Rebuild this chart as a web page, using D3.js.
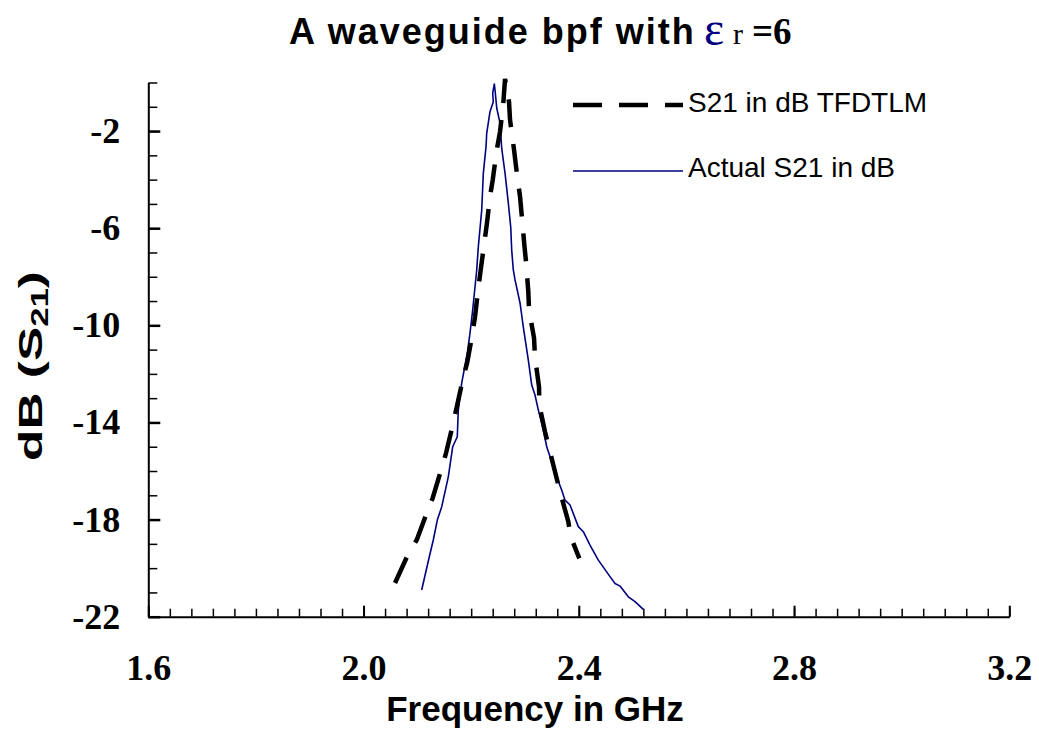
<!DOCTYPE html>
<html>
<head>
<meta charset="utf-8">
<script src="https://cdn.jsdelivr.net/npm/d3@7"></script>
<style>
  html, body { margin: 0; padding: 0; background: #fff; }
  svg { display: block; }
</style>
</head>
<body>
<svg id="chart" width="1039" height="735"></svg>
<script>
// ---- data ----
const tfdtlmFreq = [2.0585, 2.0813, 2.0988, 2.1174, 2.1285, 2.1440, 2.1532, 2.1657, 2.1731, 2.1843, 2.1928, 2.2010, 2.2071, 2.2133, 2.2177, 2.2226, 2.2289, 2.2350, 2.2400, 2.2475, 2.2536, 2.2597, 2.2629,
  2.2703, 2.2722, 2.2797, 2.2834, 2.2908, 2.2939, 2.2988, 2.3019, 2.3062, 2.3075, 2.3168, 2.3186, 2.3261, 2.3266, 2.3372, 2.3447, 2.3558, 2.3651, 2.3805, 2.3850, 2.4010];
const tfdtlmDb = [-20.61, -19.50, -18.84, -17.73, -17.11, -15.97, -15.27, -14.11, -13.37, -12.25, -11.51, -10.52, -9.66, -8.46, -7.72, -6.90, -5.87, -4.70, -4.02, -2.78, -2.03, -0.86, 0.15,
  -0.79, -1.54, -2.78, -3.47, -4.70, -5.46, -6.69, -7.38, -8.62, -9.37, -10.52, -11.31, -12.54, -13.28, -14.38, -15.05, -16.03, -16.85, -18.09, -18.71, -19.60];

const actualFreq = [2.108, 2.1222, 2.1296, 2.1371, 2.1453, 2.1575, 2.1657, 2.1742, 2.1761, 2.1824, 2.1928, 2.1978, 2.2028, 2.2103, 2.2133, 2.2196, 2.2226, 2.2276, 2.2289, 2.2350, 2.2411, 2.2400, 2.2430,
  2.2443, 2.2475, 2.2536, 2.2567, 2.2629, 2.2690, 2.2735, 2.2753, 2.2783, 2.2815, 2.2908, 2.2969, 2.3062, 2.3125, 2.3186, 2.3248, 2.3279, 2.3341, 2.3404, 2.3497, 2.3577, 2.3683, 2.3744, 2.3837, 2.3991, 2.4084, 2.4208, 2.4363, 2.4580, 2.4673, 2.4766, 2.4920, 2.5045, 2.5199];
const actualDb = [-20.90, -19.53, -18.84, -18.02, -17.47, -16.24, -15.00, -14.59, -13.49, -12.38, -11.14, -10.32, -9.37, -7.72, -6.76, -5.25, -3.73, -2.64, -2.08, -1.20, -0.79, -0.44, -0.06,
  -0.31, -1.05, -1.67, -2.70, -3.73, -4.96, -5.95, -6.90, -7.72, -8.13, -9.08, -10.07, -11.43, -12.46, -12.87, -13.49, -13.76, -14.31, -15.00, -15.62, -16.17, -16.79, -17.20, -17.40, -18.29, -18.50, -19.05, -19.67, -20.35, -20.63, -20.74, -21.18, -21.38, -21.70];

const xTickLabels = [1.6, 2.0, 2.4, 2.8, 3.2];
const yTickLabels = [-2, -6, -10, -14, -18, -22];
const seriesNames = ["S21 in dB TFDTLM", "Actual S21 in dB"];

// ---- layout ----
const svg = d3.select("#chart");
const x = d3.scaleLinear().domain([1.6, 3.2]).range([148.3, 1009.3]);
const y = d3.scaleLinear().domain([-22, 0]).range([616.7, 82.5]);

const serif = "'Liberation Serif','Times New Roman',serif";
const sans = "'Liberation Sans',Arial,sans-serif";

// minor ticks
const xMinor = d3.range(0, 41).map(i => +(1.6 + i * 0.04).toFixed(2));
const yMinor = d3.range(0, 23).map(i => -i);

const gx = svg.append("g").attr("transform", `translate(0,${y(-22)})`);
gx.call(d3.axisBottom(x).tickValues(xMinor).tickSizeInner(-8).tickSizeOuter(0).tickFormat(""));
const gx2 = svg.append("g").attr("transform", `translate(0,${y(-22)})`);
gx2.call(d3.axisBottom(x).tickValues(xTickLabels).tickSizeInner(-11).tickSizeOuter(0).tickPadding(38)
  .tickFormat(d3.format(".1f")));
gx2.select(".domain").remove();

const gy = svg.append("g").attr("transform", `translate(${x(1.6)},0)`);
gy.call(d3.axisLeft(y).tickValues(yMinor).tickSizeInner(-9).tickSizeOuter(0).tickFormat(""));
const gy2 = svg.append("g").attr("transform", `translate(${x(1.6)},0)`);
gy2.call(d3.axisLeft(y).tickValues(yTickLabels).tickSizeInner(-12).tickSizeOuter(0).tickPadding(28)
  .tickFormat(d3.format("d")));
gy2.select(".domain").remove();

svg.selectAll(".domain").attr("stroke", "#000").attr("stroke-width", 2);
svg.selectAll(".tick line").attr("stroke", "#000").attr("stroke-width", 1.5);
gx2.selectAll(".tick line").attr("stroke-width", 2);
gy2.selectAll(".tick line").attr("stroke-width", 2.5);
svg.selectAll(".tick text")
  .attr("font-family", serif).attr("font-weight", "bold").attr("font-size", 36).attr("fill", "#000");
gy2.selectAll(".tick text").text(d => d < 0 ? "-" + Math.abs(d) : d);

// ---- lines ----
const line = d3.line().x(d => x(d[0])).y(d => y(d[1]));
const tfdtlm = tfdtlmFreq.map((f, i) => [f, tfdtlmDb[i]]);
const actual = actualFreq.map((f, i) => [f, actualDb[i]]);

svg.append("path").datum(actual).attr("d", line)
  .attr("fill", "none").attr("stroke", "#000080").attr("stroke-width", 1.6).attr("stroke-linejoin", "round");
svg.append("path").datum(tfdtlm).attr("d", line)
  .attr("fill", "none").attr("stroke", "#000").attr("stroke-width", 4.5)
  .attr("stroke-dasharray", "28,17");

// ---- legend ----
const leg = svg.append("g");
leg.append("line").attr("x1", 573).attr("x2", 683).attr("y1", 105).attr("y2", 105)
  .attr("stroke", "#000").attr("stroke-width", 4.5).attr("stroke-dasharray", "29,17");
leg.append("line").attr("x1", 573).attr("x2", 683).attr("y1", 171).attr("y2", 171)
  .attr("stroke", "#000080").attr("stroke-width", 1.6);
leg.selectAll("text.lg").data(seriesNames).enter().append("text")
  .attr("x", 688).attr("y", (d, i) => i === 0 ? 112 : 177)
  .attr("font-family", sans).attr("font-size", 28).attr("fill", "#000").text(d => d);

// ---- titles ----
svg.append("text").attr("x", 289).attr("y", 44)
  .attr("font-family", sans).attr("font-weight", "bold").attr("font-size", 36).attr("fill", "#000")
  .attr("letter-spacing", 2).text("A waveguide bpf with");
svg.append("text").attr("x", 704).attr("y", 45)
  .attr("font-family", serif).attr("font-size", 48).attr("fill", "#000080").text("ε");
svg.append("text").attr("x", 733).attr("y", 44)
  .attr("font-family", serif).attr("font-size", 30).attr("fill", "#000").text("r");
svg.append("text").attr("x", 752).attr("y", 44)
  .attr("font-family", serif).attr("font-weight", "bold").attr("font-size", 37).attr("fill", "#000").text("=6");

svg.append("text").attr("x", 535).attr("y", 721).attr("text-anchor", "middle")
  .attr("font-family", sans).attr("font-weight", "bold").attr("font-size", 35).attr("fill", "#000")
  .text("Frequency in GHz");

const yt = svg.append("text").attr("transform", "translate(42,366) rotate(-90)").attr("text-anchor", "middle")
  .attr("font-family", sans).attr("font-weight", "bold").attr("font-size", 34).attr("fill", "#000")
  .attr("textLength", 190).attr("lengthAdjust", "spacingAndGlyphs");
yt.append("tspan").text("dB (S");
yt.append("tspan").attr("font-size", 23).attr("dy", 6).text("21");
yt.append("tspan").attr("dy", -6).text(")");
</script>
</body>
</html>
